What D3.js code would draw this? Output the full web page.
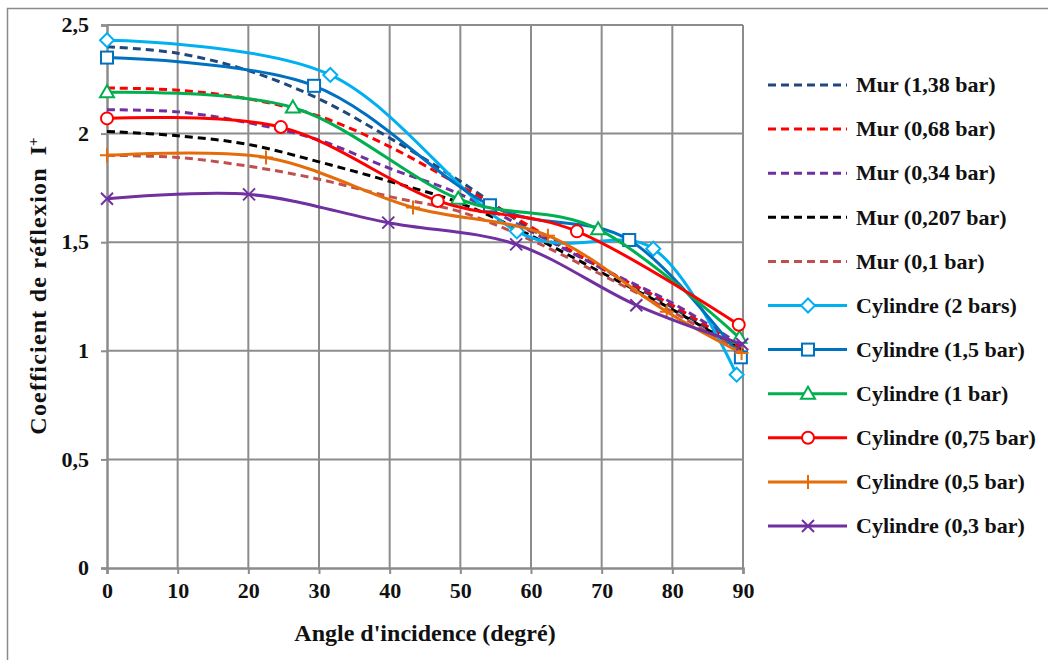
<!DOCTYPE html>
<html><head><meta charset="utf-8">
<script src="https://cdn.jsdelivr.net/npm/d3@7"></script>
</head>
<body style="margin:0;background:#fff">
<svg id="c" width="1048" height="660" font-family="Liberation Serif"></svg>
<script>
// ---- data ----
const murX = [0,10,20,30,40,50,60,70,80,90];
const mur138 = [2.40,2.37,2.29,2.16,1.98,1.78,1.56,1.38,1.20,1.00];
const mur068 = [2.21,2.20,2.16,2.08,1.94,1.76,1.57,1.38,1.21,1.01];
const mur034 = [2.11,2.10,2.05,1.97,1.84,1.72,1.55,1.38,1.22,1.02];
const mur0207 = [2.01,1.99,1.95,1.87,1.78,1.68,1.53,1.36,1.19,1.00];
const mur01 = [1.90,1.89,1.85,1.79,1.71,1.64,1.51,1.35,1.18,0.99];

const cyl2X = [0,31.6,58,77.3,89.1];
const cyl2Y = [2.43,2.27,1.55,1.47,0.89];
const cyl15X = [0,29.3,54.2,73.9,89.7];
const cyl15Y = [2.35,2.22,1.67,1.51,0.97];
const cyl1X = [0,26.3,49.7,69.5,89.5];
const cyl1Y = [2.19,2.12,1.70,1.56,1.06];
const cyl075X = [0,24.6,46.8,66.5,89.4];
const cyl075Y = [2.07,2.03,1.69,1.55,1.12];
const cyl05X = [0,22.5,43.3,62.4,79.2,89.8];
const cyl05Y = [1.90,1.89,1.66,1.53,1.18,0.99];
const cyl03X = [0,20.1,39.8,57.9,74.9,89.9];
const cyl03Y = [1.70,1.72,1.59,1.49,1.21,1.03];

const xTicks = [0,10,20,30,40,50,60,70,80,90];
const yTicks = [0,0.5,1,1.5,2,2.5];
const yTickLabels = ["0","0,5","1","1,5","2","2,5"];

const series = [
 {name:"Mur (1,38 bar)", x:murX, y:mur138, color:"#1F497D", dash:true},
 {name:"Mur (0,68 bar)", x:murX, y:mur068, color:"#FF0000", dash:true},
 {name:"Mur (0,34 bar)", x:murX, y:mur034, color:"#7030A0", dash:true},
 {name:"Mur (0,207 bar)", x:murX, y:mur0207, color:"#000000", dash:true},
 {name:"Mur (0,1 bar)", x:murX, y:mur01, color:"#C0504D", dash:true},
 {name:"Cylindre (2 bars)", x:cyl2X, y:cyl2Y, color:"#00B0F0", marker:"diamond"},
 {name:"Cylindre (1,5 bar)", x:cyl15X, y:cyl15Y, color:"#0070C0", marker:"square"},
 {name:"Cylindre (1 bar)", x:cyl1X, y:cyl1Y, color:"#00B050", marker:"triangle"},
 {name:"Cylindre (0,75 bar)", x:cyl075X, y:cyl075Y, color:"#FF0000", marker:"circle"},
 {name:"Cylindre (0,5 bar)", x:cyl05X, y:cyl05Y, color:"#E46C0A", marker:"plus"},
 {name:"Cylindre (0,3 bar)", x:cyl03X, y:cyl03Y, color:"#7030A0", marker:"cross"}
];

// ---- layout ----
const FONT = "Liberation Serif";
const FS = 22;
const svg = d3.select("#c");
const L=107, R=743, T=25, B=568;
const x = d3.scaleLinear().domain([0,90]).range([L,R]);
const y = d3.scaleLinear().domain([0,2.5]).range([B,T]);

function styleText(sel, size){
  return sel.attr("font-family",FONT).style("font-family",FONT,"important")
    .attr("font-weight","bold").attr("font-size",size||FS).attr("fill","#111");
}

svg.append("rect").attr("x",7.5).attr("y",8.5).attr("width",1100).attr("height",700)
  .attr("fill","none").attr("stroke","#8a8a8a").attr("stroke-width",1.5);

const grid = "#8c8c8c";
svg.append("g").selectAll("line").data(xTicks.slice(1)).join("line")
  .attr("x1",d=>x(d)).attr("x2",d=>x(d)).attr("y1",T).attr("y2",B)
  .attr("stroke",grid).attr("stroke-width",2);
svg.append("g").selectAll("line").data(yTicks.slice(1)).join("line")
  .attr("x1",L).attr("x2",R).attr("y1",d=>y(d)).attr("y2",d=>y(d))
  .attr("stroke",grid).attr("stroke-width",2);

const xAxis = d3.axisBottom(x).tickValues(xTicks).tickSize(6).tickFormat(d=>d);
const gx = svg.append("g").attr("transform",`translate(0,${B})`).call(xAxis)
  .attr("font-family",FONT);
gx.select(".domain").attr("stroke",grid).attr("stroke-width",2.5);
gx.selectAll(".tick line").attr("stroke",grid).attr("stroke-width",2);
styleText(gx.selectAll(".tick text")).attr("y",12).attr("dy","0.8em");

const yAxis = d3.axisLeft(y).tickValues(yTicks).tickSize(6).tickFormat((d,i)=>yTickLabels[i]);
const gy = svg.append("g").attr("transform",`translate(${L},0)`).call(yAxis)
  .attr("font-family",FONT);
gy.select(".domain").attr("stroke",grid).attr("stroke-width",2.5);
gy.selectAll(".tick line").attr("stroke",grid).attr("stroke-width",2);
styleText(gy.selectAll(".tick text")).attr("x",-18).attr("dy","0.3em");

styleText(svg.append("text"), 24).attr("x",425).attr("y",641).attr("text-anchor","middle")
  .text("Angle d'incidence (degré)");
const yt = styleText(svg.append("text"), 24).attr("transform","translate(46,286) rotate(-90)")
  .attr("text-anchor","middle");
yt.append("tspan").attr("letter-spacing",1.2).text("Coefficient de réflexion");
yt.append("tspan").attr("dx",12).text("I");
yt.append("tspan").attr("baseline-shift","super").attr("font-size",15).text("+");

function drawMarker(g, type, color, cx, cy){
  const s = 6;
  if(type==="diamond"){
    g.append("path").attr("d",`M${cx},${cy-s-1}L${cx+s+1},${cy}L${cx},${cy+s+1}L${cx-s-1},${cy}Z`)
     .attr("fill","#fff").attr("stroke",color).attr("stroke-width",2);
  } else if(type==="square"){
    g.append("rect").attr("x",cx-s).attr("y",cy-s).attr("width",2*s).attr("height",2*s)
     .attr("fill","#fff").attr("stroke",color).attr("stroke-width",2);
  } else if(type==="triangle"){
    g.append("path").attr("d",`M${cx},${cy-s-1}L${cx+s+1},${cy+s-1}L${cx-s-1},${cy+s-1}Z`)
     .attr("fill","#fff").attr("stroke",color).attr("stroke-width",2);
  } else if(type==="circle"){
    g.append("circle").attr("cx",cx).attr("cy",cy).attr("r",s)
     .attr("fill","#fff").attr("stroke",color).attr("stroke-width",2);
  } else if(type==="plus"){
    g.append("path").attr("d",`M${cx-s-1},${cy}L${cx+s+1},${cy}M${cx},${cy-s-1}L${cx},${cy+s+1}`)
     .attr("stroke",color).attr("stroke-width",2);
  } else if(type==="cross"){
    g.append("path").attr("d",`M${cx-s},${cy-s}L${cx+s},${cy+s}M${cx-s},${cy+s}L${cx+s},${cy-s}`)
     .attr("stroke",color).attr("stroke-width",2);
  }
}

const line = d3.line().x(d=>x(d[0])).y(d=>y(d[1])).curve(d3.curveCardinal.tension(0));
const plot = svg.append("g");
series.forEach(s=>{
  const pts = s.x.map((v,i)=>[v,s.y[i]]);
  plot.append("path").attr("d",line(pts)).attr("fill","none")
    .attr("stroke",s.color).attr("stroke-width",3)
    .attr("stroke-dasharray",s.dash?"8,5":null);
  if(s.marker){
    pts.forEach(p=>drawMarker(plot,s.marker,s.color,x(p[0]),y(p[1])));
  }
});

const lg = svg.append("g");
series.forEach((s,i)=>{
  const yy = 85 + i*44.1;
  lg.append("line").attr("x1",768).attr("x2",847).attr("y1",yy).attr("y2",yy)
    .attr("stroke",s.color).attr("stroke-width",3).attr("stroke-dasharray",s.dash?"8,5":null);
  if(s.marker) drawMarker(lg,s.marker,s.color,808,yy);
  styleText(lg.append("text")).attr("x",856).attr("y",yy).attr("dy","0.33em").text(s.name);
});
</script></body></html>
